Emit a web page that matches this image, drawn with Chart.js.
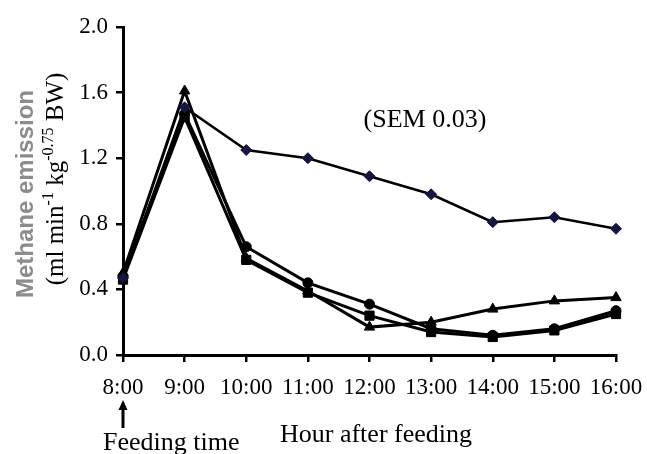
<!DOCTYPE html>
<html>
<head>
<meta charset="utf-8">
<script src="https://cdn.jsdelivr.net/npm/chart.js"></script>
<style>
  html, body { margin: 0; padding: 0; background: #fff; }
  #wrap { width: 647px; height: 454px; position: relative; }
</style>
</head>
<body>
<div id="wrap"><canvas id="methaneChart"></canvas></div>
<script>
// Hours after feeding (x categories)
const hours = ["8:00", "9:00", "10:00", "11:00", "12:00", "13:00", "14:00", "15:00", "16:00"];

// Methane emission series (ml min-1 kg-0.75 BW)
const diamondSeries = [0.47, 1.51, 1.25, 1.20, 1.09, 0.98, 0.81, 0.84, 0.77];
const circleSeries = [0.48, 1.47, 0.66, 0.44, 0.31, 0.16, 0.12, 0.16, 0.27];
const squareSeries = [0.46, 1.45, 0.58, 0.38, 0.24, 0.14, 0.11, 0.15, 0.25];
const triangleSeries = [0.50, 1.61, 0.59, 0.39, 0.17, 0.20, 0.28, 0.33, 0.35];

const yTicks = [0, 0.4, 0.8, 1.2, 1.6, 2.0];

const SERIF = "'Liberation Serif', 'Times New Roman', serif";

// Draws the axis titles, the SEM note and the feeding-time arrow
const annotations = {
  id: "annotations",
  afterDraw(chart) {
    const ctx = chart.ctx;
    const xScale = chart.scales.x;
    ctx.save();
    ctx.fillStyle = "#000";
    ctx.textBaseline = "alphabetic";

    // SEM note
    ctx.font = "26px " + SERIF;
    ctx.textAlign = "center";
    ctx.fillText("(SEM 0.03)", 425, 127);

    // x axis title
    ctx.fillText("Hour after feeding", 376, 442);

    // feeding time arrow and text
    const ax = xScale.getPixelForValue(0);
    ctx.strokeStyle = "#000";
    ctx.lineWidth = 3;
    ctx.beginPath();
    ctx.moveTo(ax, 428);
    ctx.lineTo(ax, 408);
    ctx.stroke();
    ctx.beginPath();
    ctx.moveTo(ax, 400);
    ctx.lineTo(ax - 4.5, 410);
    ctx.lineTo(ax + 4.5, 410);
    ctx.closePath();
    ctx.fill();
    ctx.textAlign = "left";
    ctx.fillText("Feeding time", 103, 450);

    // y axis title, line 1 (grey, soft)
    ctx.save();
    ctx.translate(33, 194);
    ctx.rotate(-Math.PI / 2);
    ctx.filter = "blur(0.7px)";
    ctx.fillStyle = "#8c8c8c";
    ctx.font = "bold 24px 'Liberation Sans', Arial, sans-serif";
    ctx.textAlign = "center";
    ctx.fillText("Methane emission", 0, 0);
    ctx.restore();

    // y axis title, line 2 with superscripts
    const parts = [
      { t: "(ml min", sup: false },
      { t: "-1", sup: true },
      { t: " kg", sup: false },
      { t: "-0.75", sup: true },
      { t: " BW)", sup: false },
    ];
    const mainFont = "25px " + SERIF;
    const supFont = "16px " + SERIF;
    let total = 0;
    parts.forEach((p) => {
      ctx.font = p.sup ? supFont : mainFont;
      p.w = ctx.measureText(p.t).width;
      total += p.w;
    });
    ctx.save();
    ctx.translate(63, 179);
    ctx.rotate(-Math.PI / 2);
    ctx.textAlign = "left";
    let cx = -total / 2;
    parts.forEach((p) => {
      ctx.font = p.sup ? supFont : mainFont;
      ctx.fillText(p.t, cx, p.sup ? -10 : 0);
      cx += p.w;
    });
    ctx.restore();

    ctx.restore();
  },
};

const lineBase = {
  borderColor: "#000",
  borderWidth: 3,
  pointBorderColor: "#000",
  pointBackgroundColor: "#000",
  pointBorderWidth: 1,
  tension: 0,
  fill: false,
};

new Chart(document.getElementById("methaneChart"), {
  type: "line",
  data: {
    labels: hours,
    datasets: [
      {
        ...lineBase,
        label: "diamond",
        data: diamondSeries,
        borderWidth: 2.5,
        pointStyle: "rectRot",
        pointRadius: 5.5,
        pointBackgroundColor: "#15153d",
        pointBorderColor: "#15153d",
      },
      { ...lineBase, label: "circle", data: circleSeries, pointStyle: "circle", pointRadius: 5 },
      { ...lineBase, label: "square", data: squareSeries, pointStyle: "rect", pointRadius: 6.5 },
      { ...lineBase, label: "triangle", data: triangleSeries, pointStyle: "triangle", pointRadius: 6 },
    ],
  },
  options: {
    responsive: true,
    maintainAspectRatio: false,
    animation: false,
    events: [],
    layout: { padding: { top: 27, right: 31, left: 0, bottom: 0 } },
    plugins: {
      legend: { display: false },
      tooltip: { enabled: false },
    },
    scales: {
      x: {
        offset: false,
        grid: {
          offset: false,
          drawOnChartArea: false,
          drawTicks: true,
          tickLength: 7,
          color: "#000",
          lineWidth: 2.5,
        },
        border: { color: "#000", width: 3 },
        ticks: {
          color: "#000",
          padding: 12,
          maxRotation: 0,
          autoSkip: false,
          font: { family: SERIF, size: 23 },
        },
        afterFit(scale) {
          scale.height = 99;
          scale.paddingLeft = 0;
          scale.paddingRight = 0;
        },
      },
      y: {
        min: 0,
        max: 2.0,
        afterBuildTicks(scale) {
          scale.ticks = yTicks.map((v) => ({ value: v }));
        },
        grid: {
          drawOnChartArea: false,
          drawTicks: true,
          tickLength: 7,
          color: "#000",
          lineWidth: 2.5,
        },
        border: { color: "#000", width: 3 },
        ticks: {
          color: "#000",
          padding: 8,
          font: { family: SERIF, size: 23 },
          callback: (value) => Number(value).toFixed(1),
        },
        afterFit(scale) {
          scale.width = 123;
        },
      },
    },
  },
  plugins: [annotations],
});
</script>
</body>
</html>
